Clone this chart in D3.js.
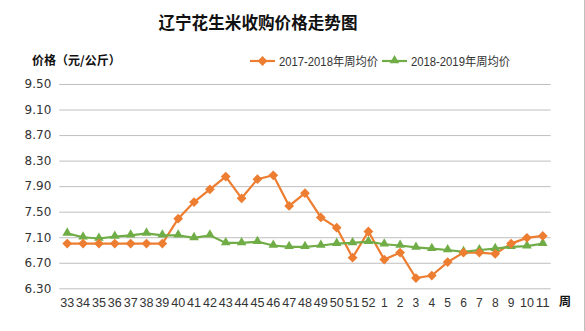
<!DOCTYPE html>
<html><head><meta charset="utf-8">
<script src="https://cdn.jsdelivr.net/npm/d3@7/dist/d3.min.js"></script>
<style>body{margin:0;background:#fff}svg{display:block}</style>
</head><body>
<svg id="c" width="585" height="331"></svg>
<script>
const weeks = ["33","34","35","36","37","38","39","40","41","42","43","44","45","46","47","48","49","50","51","52","1","2","3","4","5","6","7","8","9","10","11"];
const price1718 = [7.00,7.00,7.00,7.00,7.00,7.00,7.00,7.39,7.65,7.85,8.05,7.71,8.01,8.07,7.59,7.79,7.41,7.25,6.78,7.19,6.75,6.86,6.46,6.50,6.71,6.86,6.86,6.84,7.00,7.09,7.12];
const price1819 = [7.16,7.10,7.08,7.11,7.13,7.16,7.13,7.13,7.09,7.13,7.01,7.01,7.03,6.97,6.95,6.95,6.97,7.00,7.01,7.03,6.99,6.97,6.94,6.92,6.90,6.87,6.90,6.92,6.95,6.96,7.00];
const yTicks = [6.30,6.70,7.10,7.50,7.90,8.30,8.70,9.10,9.50];
const seriesNames = ["2017-2018年周均价","2018-2019年周均价"];
const colors = ["#ED7D31","#70AD47"];

const svg = d3.select("#c");
const L = 59.3, R = 550.7, T = 84, B = 288.3;
const x = d3.scaleBand().domain(weeks).range([L, R]);
const y = d3.scaleLinear().domain([6.30, 9.50]).range([B, T]);

// right border
svg.append("line").attr("x1",584.5).attr("x2",584.5).attr("y1",0).attr("y2",331).attr("stroke","#bfbfbf").attr("stroke-width",1);

// title
svg.append("text").attr("x",258).attr("y",29).attr("text-anchor","middle")
  .attr("font-family","Noto Sans CJK SC").attr("font-weight","bold").attr("font-size",16.6).attr("fill","#111")
  .text("辽宁花生米收购价格走势图");
svg.append("text").attr("x",32).attr("y",65)
  .attr("font-family","Noto Sans CJK SC").attr("font-weight","bold").attr("font-size",12).attr("fill","#111")
  .text("价格（元/公斤）");

// y axis grid
const yAxis = d3.axisLeft(y).tickValues(yTicks).tickFormat(d3.format(".2f")).tickSize(-(R-L)).tickPadding(8);
const gy = svg.append("g").attr("transform",`translate(${L},0)`).call(yAxis);
gy.select(".domain").remove();
gy.selectAll(".tick line").attr("stroke","#bfbfbf").attr("stroke-width",1);
gy.selectAll(".tick text").attr("font-family","DejaVu Sans").attr("font-size",12).attr("fill","#333");

// x axis
const xAxis = d3.axisBottom(x).tickSize(0).tickPadding(10);
const gx = svg.append("g").attr("transform",`translate(0,${B})`).call(xAxis);
gx.select(".domain").remove();
gx.selectAll(".tick text").attr("font-family","Liberation Sans").attr("font-size",12).attr("fill","#333")
  .attr("textLength", function(d){ return d.length>1 ? 14 : null; }).attr("lengthAdjust","spacingAndGlyphs");
svg.append("text").attr("x",559).attr("y",306)
  .attr("font-family","Noto Sans CJK SC").attr("font-weight","bold").attr("font-size",12).attr("fill","#111").text("周");

const cx = d => x(d) + x.bandwidth()/2;
const line = d3.line().x((d,i)=>cx(weeks[i])).y(d=>y(d));

const diamond = d3.symbol().type(d3.symbolSquare).size(48);
const tri = d3.symbol().type(d3.symbolTriangle).size(40);

[price1718, price1819].forEach((vals, s) => {
  svg.append("path").datum(vals).attr("d", line).attr("fill","none").attr("stroke",colors[s]).attr("stroke-width",2.2);
});
// markers
svg.append("g").selectAll("path").data(price1819).join("path")
  .attr("transform",(d,i)=>`translate(${cx(weeks[i])},${y(d)-0.5})`).attr("d",tri).attr("fill",colors[1]);
svg.append("g").selectAll("path").data(price1718).join("path")
  .attr("transform",(d,i)=>`translate(${cx(weeks[i])},${y(d)}) rotate(45)`).attr("d",diamond).attr("fill",colors[0]);

// legend
const lg = svg.append("g");
const legX = [250, 382];
seriesNames.forEach((n, s) => {
  const lx = legX[s];
  lg.append("line").attr("x1",lx).attr("x2",lx+25).attr("y1",61).attr("y2",61).attr("stroke",colors[s]).attr("stroke-width",2.2);
  if (s===0) lg.append("path").attr("transform",`translate(${lx+12.5},61) rotate(45)`).attr("d",diamond).attr("fill",colors[s]);
  else lg.append("path").attr("transform",`translate(${lx+12.5},60.5)`).attr("d",tri).attr("fill",colors[s]);
  lg.append("text").attr("x",lx+29).attr("y",65.5).attr("font-family","Liberation Sans, Noto Sans CJK SC").attr("font-size",12).attr("fill","#333")
    .attr("textLength",99).attr("lengthAdjust","spacingAndGlyphs").text(n);
});
</script>
</body></html>
